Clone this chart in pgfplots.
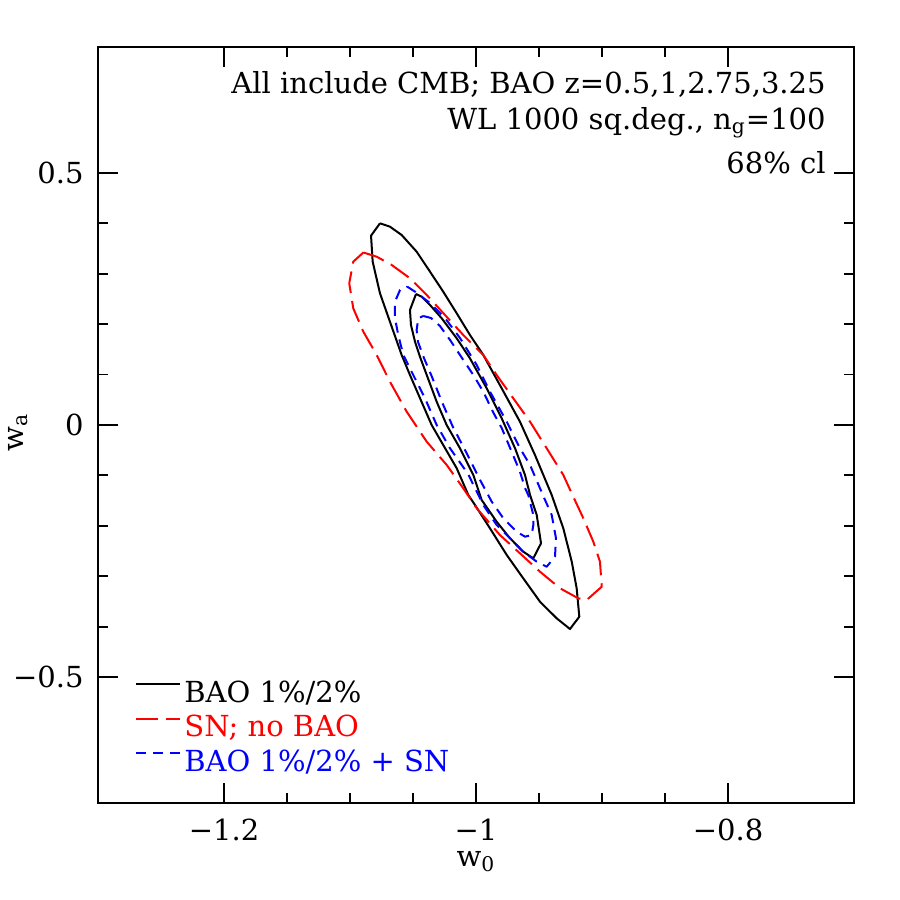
\documentclass[border=0pt]{standalone}
\usepackage{pgfplots}
\pgfplotsset{compat=1.18}
\usepackage{fontspec}
\setmainfont{DejaVu Serif}
\begin{document}
\begin{tikzpicture}
\begin{axis}[
  scale only axis, width=378pt, height=378pt,
  xmin=-1.3, xmax=-0.7, ymin=-0.75, ymax=0.75,
  /pgf/number format/assume math mode=true,
  xtick={-1.2,-1,-0.8}, xticklabels={−1.2,−1,−0.8},
  ytick={-0.5,0,0.5}, yticklabels={−0.5,0,0.5},
  minor x tick num=3, minor y tick num=4,
  tick align=inside, major tick length=10pt, minor tick length=5pt,
  every tick/.style={black, line width=0.9pt},
  axis line style={line width=1pt},
  xtick pos=both, ytick pos=both,
  ticklabel style={font=\fontsize{14.5}{17}\selectfont},
  xticklabel style={yshift=-4.5pt},
  yticklabel style={xshift=-3.7pt},
  xlabel={w\textsubscript{0}}, ylabel={w\textsubscript{a}},
  label style={font=\fontsize{14.5}{17}\selectfont},
  xlabel style={at={(axis description cs:0.5,-0.064)}, anchor=north, inner sep=0pt},
  ylabel style={at={(axis description cs:-0.106,0.49)}, anchor=center, inner sep=0pt},
  clip=false,
  legend style={at={(0.041,0.168)}, anchor=north west, draw=none, fill=none,
    font=\fontsize{14.5}{17}\selectfont,
    nodes={inner sep=0pt, text height=11pt, text depth=3.5pt},
    row sep=2.75pt},
  legend cell align=left,
  legend image code/.code={\draw[#1] (0pt,5.3pt) -- (22pt,5.3pt); \path (23.5pt,0pt);},
]
% BAO 1%/2% (black, solid) outer
\addplot[black, line width=1pt, line join=round] coordinates {
(-1.0762,0.4002) (-1.0683,0.3935) (-1.0590,0.3770) (-1.0471,0.3439) (-1.0365,0.3042) (-1.0260,0.2645) (-1.0153,0.2216) (-1.0048,0.1786) (-0.9942,0.1389) (-0.9796,0.0728) (-0.9651,0.0065) (-0.9532,-0.0595) (-0.9399,-0.1389) (-0.9307,-0.2050) (-0.9240,-0.2712) (-0.9201,-0.3240) (-0.9180,-0.3804) (-0.9254,-0.4048) (-0.9360,-0.3835) (-0.9492,-0.3506) (-0.9625,-0.3042) (-0.9756,-0.2579) (-0.9889,-0.2050) (-1.0008,-0.1587) (-1.0061,-0.1389) (-1.0153,-0.0859) (-1.0260,-0.0397) (-1.0352,0) (-1.0444,0.0530) (-1.0524,0.0992) (-1.0590,0.1389) (-1.0683,0.2050) (-1.0762,0.2613) (-1.0820,0.3240) (-1.0833,0.3756) (-1.0762,0.4002)};
\addlegendentry{\textcolor{black}{BAO 1\%/2\%}}
% inner
\addplot[black, line width=1pt, line join=round, forget plot] coordinates {
(-1.0476,0.2599) (-1.0431,0.2546) (-1.0365,0.2381) (-1.0272,0.2117) (-1.0153,0.1720) (-1.0048,0.1323) (-0.9915,0.0728) (-0.9796,0.0133) (-0.9690,-0.0462) (-0.9611,-0.0992) (-0.9571,-0.1389) (-0.9518,-0.1786) (-0.9484,-0.2347) (-0.9545,-0.2645) (-0.9625,-0.2514) (-0.9730,-0.2248) (-0.9836,-0.1919) (-0.9955,-0.1488) (-1.0021,-0.0992) (-1.0127,-0.0462) (-1.0233,0) (-1.0312,0.0462) (-1.0391,0.0992) (-1.0444,0.1349) (-1.0484,0.1653) (-1.0516,0.1984) (-1.0524,0.2282) (-1.0476,0.2599)};
% SN; no BAO (red, long dash)
\addplot[red, line width=1pt, line join=round, dash pattern=on 11pt off 4pt] coordinates {
(-1.0894,0.3423) (-1.0788,0.3339) (-1.0669,0.3175) (-1.0524,0.2911) (-1.0391,0.2579) (-1.0246,0.2183) (-1.0101,0.1786) (-0.9942,0.1389) (-0.9836,0.0992) (-0.9704,0.0530) (-0.9571,0.0065) (-0.9439,-0.0462) (-0.9307,-0.0992) (-0.9228,-0.1423) (-0.9148,-0.1851) (-0.9069,-0.2315) (-0.9016,-0.2712) (-0.9002,-0.3208) (-0.9121,-0.3472) (-0.9188,-0.3439) (-0.9333,-0.3240) (-0.9492,-0.2911) (-0.9651,-0.2546) (-0.9810,-0.2183) (-0.9994,-0.1653) (-1.0101,-0.1256) (-1.0232,-0.0794) (-1.0391,-0.0331) (-1.0550,0.0264) (-1.0683,0.0859) (-1.0788,0.1389) (-1.0894,0.1851) (-1.0974,0.2315) (-1.1006,0.2812) (-1.0974,0.3240) (-1.0894,0.3423)};
\addlegendentry{\textcolor{red}{SN; no BAO}}
% BAO 1%/2% + SN (blue, short dash) outer
\addplot[blue, line width=1pt, line join=round, dash pattern=on 5pt off 3.5pt] coordinates {
(-1.0545,0.2744) (-1.0484,0.2645) (-1.0365,0.2421) (-1.0246,0.2123) (-1.0127,0.1726) (-0.9994,0.1190) (-0.9889,0.0661) (-0.9756,0.0065) (-0.9651,-0.0462) (-0.9571,-0.0794) (-0.9492,-0.1256) (-0.9452,-0.1488) (-0.9399,-0.1786) (-0.9365,-0.2248) (-0.9373,-0.2613) (-0.9439,-0.2812) (-0.9518,-0.2712) (-0.9625,-0.2514) (-0.9730,-0.2248) (-0.9836,-0.1984) (-0.9942,-0.1587) (-1.0063,-0.0972) (-1.0206,-0.0462) (-1.0312,0) (-1.0405,0.0530) (-1.0498,0.0992) (-1.0577,0.1389) (-1.0617,0.1786) (-1.0643,0.2117) (-1.0643,0.2446) (-1.0603,0.2679) (-1.0545,0.2744)};
\addlegendentry{\textcolor{blue}{BAO 1\%/2\% + SN}}
% inner
\addplot[blue, line width=1pt, line join=round, dash pattern=on 5pt off 3.5pt, forget plot] coordinates {
(-1.0418,0.2163) (-1.0357,0.2123) (-1.0286,0.1964) (-1.0206,0.1687) (-1.0111,0.1329) (-1.0021,0.0992) (-0.9942,0.0661) (-0.9865,0.0258) (-0.9796,-0.0060) (-0.9717,-0.0530) (-0.9651,-0.0927) (-0.9611,-0.1250) (-0.9585,-0.1389) (-0.9545,-0.1786) (-0.9545,-0.1984) (-0.9558,-0.2183) (-0.9611,-0.2216) (-0.9677,-0.2117) (-0.9783,-0.1851) (-0.9875,-0.1522) (-0.9976,-0.1052) (-1.0079,-0.0536) (-1.0183,-0.0040) (-1.0270,0.0456) (-1.0349,0.0952) (-1.0413,0.1329) (-1.0460,0.1647) (-1.0471,0.1885) (-1.0458,0.2117) (-1.0418,0.2163)};
\node[anchor=base east, inner sep=0pt, font=\fontsize{14.5}{17}\selectfont] at (rel axis cs:0.963,0.939) {All include CMB; BAO z=0.5,1,2.75,3.25};
\node[anchor=base east, inner sep=0pt, font=\fontsize{14.5}{17}\selectfont] at (rel axis cs:0.963,0.8915) {WL 1000 sq.deg., n\textsubscript{g}=100};
\node[anchor=base east, inner sep=0pt, font=\fontsize{14.5}{17}\selectfont] at (rel axis cs:0.963,0.8333) {68\% cl};
\end{axis}
\pgfresetboundingbox
\path ([shift={(-49pt,-48.5pt)}]current axis.south west) rectangle ([shift={(23pt,23.5pt)}]current axis.north east);
\end{tikzpicture}
\end{document}
